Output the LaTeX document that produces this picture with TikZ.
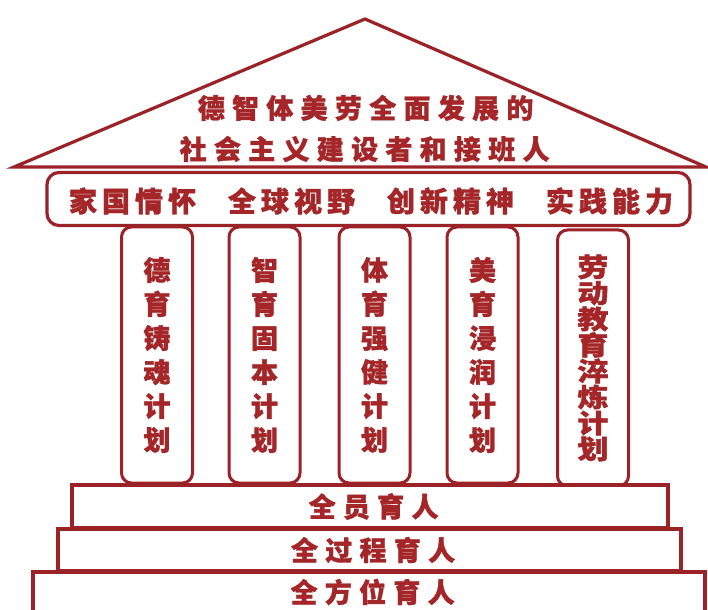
\documentclass[tikz,border=0pt]{standalone}
\usepackage{fontspec}
\newfontfamily\cjk{Noto Sans CJK SC}[FakeBold=1.3]
\newfontfamily\cjkT{Noto Sans CJK SC}[LetterSpace=27,FakeBold=1.3]
\newfontfamily\cjkB{Noto Sans CJK SC}[LetterSpace=18,FakeBold=1.3]
\newfontfamily\cjkW{Noto Sans CJK SC}[FakeStretch=1.2,FakeBold=1.3]
\definecolor{linered}{RGB}{155,35,40}
\definecolor{textred}{RGB}{165,38,40}
\tikzset{
  roofline/.style={draw=linered, line width=1.6pt, line join=miter},
  bandbox/.style={draw=linered, line width=1.6pt, rounded corners=6pt, fill=white,
    minimum width=321.5pt, minimum height=26.5pt, inner sep=0pt},
  titletext/.style={text=textred, font=\cjkT\bfseries\fontsize{13.5}{23.5}\selectfont, inner sep=0pt},
  bandtext/.style={text=textred, font=\cjkB\bfseries\fontsize{14}{17}\selectfont, inner sep=0pt},
  pillar/.style={draw=linered, line width=1.5pt, rounded corners=5pt, fill=white,
    minimum width=35.5pt, minimum height=128pt, inner sep=0pt, align=center,
    text=textred, font=\cjk\bfseries\fontsize{13.5}{17}\selectfont},
  widepillar/.style={pillar, font=\cjkW\bfseries\fontsize{13}{13}\selectfont},
  stepbox/.style={draw=linered, line width=2pt, fill=white, inner sep=0pt,
    text=textred, font=\cjkT\bfseries\fontsize{13.5}{17}\selectfont}
}
\begin{document}
\begin{tikzpicture}[x=0.5pt,y=-0.5pt]
\useasboundingbox (0,0) rectangle (708,610);
\fill[white] (0,0) rectangle (708,610);

% roof
\draw[roofline] (14,167) coordinate (rl) -- (365,19) coordinate (apex) -- (706,167) coordinate (rr) -- cycle;
\node[titletext] (t1) at (362,108) {德智体美劳全面发展的\kern-0.27em};
\node[titletext] (t2) at (361,149) {社会主义建设者和接班人\kern-0.27em};

% band
\node[bandbox] (band) at (368.5,199) {};
\node[bandtext] (g1) at (130,201) {家国情怀\kern-0.18em};
\node[bandtext] (g2) at (289,201) {全球视野\kern-0.18em};
\node[bandtext] (g3) at (448,201) {创新精神\kern-0.18em};
\node[bandtext] (g4) at (607,201) {实践能力\kern-0.18em};

% pillars
\node[pillar] (p1) at (157,355) {德\\育\\铸\\魂\\计\\划};
\node[pillar] (p2) at (264.5,355) {智\\育\\固\\本\\计\\划};
\node[pillar] (p3) at (374.5,355) {体\\育\\强\\健\\计\\划};
\node[pillar] (p4) at (482.5,355) {美\\育\\浸\\润\\计\\划};
\node[widepillar] (p5) at (593,358) {劳\\动\\教\\育\\淬\\炼\\计\\划};

% steps
\node[stepbox, minimum width=298pt, minimum height=21.5pt] (s1) at (370,506.5) {全员育人\kern-0.27em};
\node[stepbox, minimum width=311.5pt, minimum height=21pt] (s2) at (369.5,550) {全过程育人\kern-0.27em};
\node[stepbox, minimum width=336pt, minimum height=20pt] (s3) at (369,592) {全方位育人\kern-0.27em};
\end{tikzpicture}
\end{document}
